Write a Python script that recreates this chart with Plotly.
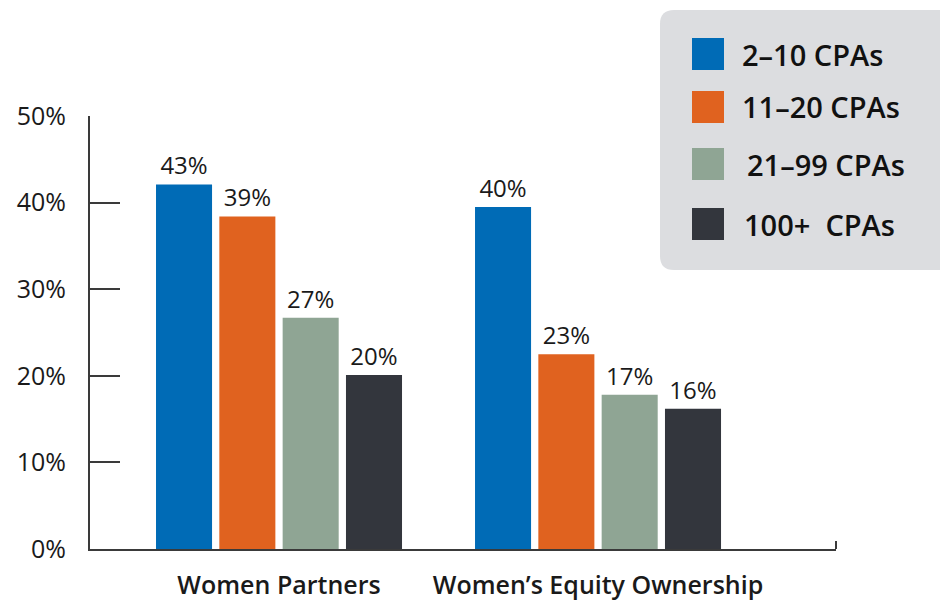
import plotly.graph_objects as go

categories = ["Women Partners", "Women’s Equity Ownership"]
series_names = ["2–10 CPAs", "11–20 CPAs", "21–99 CPAs", "100+\u00a0 CPAs"]
series_values = [
    [42.1, 39.5],
    [38.4, 22.5],
    [26.7, 17.8],
    [20.1, 16.2],
]
series_labels = [
    ["43%", "40%"],
    ["39%", "23%"],
    ["27%", "17%"],
    ["20%", "16%"],
]
colors = ["#006bb6", "#e0621f", "#8fa594", "#33363d"]
y_ticks = [0, 10, 20, 30, 40, 50]
y_tick_labels = ["0%", "10%", "20%", "30%", "40%", "50%"]

FONT = "Open Sans"
AX = "#3a3a3a"
TXT = "#1a1a1a"

# plot area in pixels
L, R, T, B = 90, 836, 116, 549
W, H = R - L, B - T


def px(x):
    return (x - L) / W


def py(y):
    return (B - y) / H


fig = go.Figure()
for name, vals, labs, col in zip(series_names, series_values, series_labels, colors):
    fig.add_trace(go.Bar(
        x=categories, y=vals, name=name, text=labs,
        textposition="outside", cliponaxis=False,
        textfont=dict(family=FONT, size=24, color=TXT),
        marker=dict(color=col, line=dict(width=0)),
        showlegend=False,
    ))

shapes = []
# legend box with rounded left corners (extends past right edge)
x0, x1, y0, y1, r = 660, 980, 10, 270, 14
path = (f"M{px(x0 + r)},{py(y0)} L{px(x1)},{py(y0)} L{px(x1)},{py(y1)} "
        f"L{px(x0 + r)},{py(y1)} Q{px(x0)},{py(y1)} {px(x0)},{py(y1 - r)} "
        f"L{px(x0)},{py(y0 + r)} Q{px(x0)},{py(y0)} {px(x0 + r)},{py(y0)} Z")
shapes.append(dict(type="path", xref="paper", yref="paper", path=path,
                   fillcolor="#dcdde0", line=dict(width=0), layer="below"))

annotations = []
sw_y = [38, 91, 148, 208]
text_x = [740, 740, 745, 742]
for i, (name, col) in enumerate(zip(series_names, colors)):
    ya, yb = sw_y[i], sw_y[i] + 32
    shapes.append(dict(type="rect", xref="paper", yref="paper",
                       x0=px(692), x1=px(724), y0=py(yb), y1=py(ya),
                       fillcolor=col, line=dict(width=0)))
    annotations.append(dict(xref="paper", yref="paper", x=px(text_x[i]), y=py((ya + yb) / 2),
                            text=name, showarrow=False, xanchor="left", yanchor="middle",
                            font=dict(family=FONT, size=29, color="#111111", weight=600)))

# small end tick on the x axis
shapes.append(dict(type="line", xref="paper", yref="paper",
                   x0=1, x1=1, y0=0, y1=py(541), line=dict(color=AX, width=2)))

fig.update_layout(
    width=940, height=601,
    margin=dict(l=L, r=940 - R, t=T, b=601 - B, autoexpand=False),
    paper_bgcolor="white", plot_bgcolor="white",
    barmode="group", bargap=0.206, bargroupgap=0.115,
    shapes=shapes, annotations=annotations,
    font=dict(family=FONT, color=TXT),
)
fig.update_xaxes(
    range=[-0.5925, 1.746], showline=True, linecolor=AX, linewidth=2,
    ticks="", showgrid=False, zeroline=False, automargin=False,
    tickfont=dict(family=FONT, size=25, color=TXT, weight=600),
    ticklabelstandoff=13,
)
fig.update_yaxes(
    range=[0, 50], tickvals=y_ticks, ticktext=y_tick_labels,
    showline=True, linecolor=AX, linewidth=2,
    ticks="inside", ticklen=30, tickwidth=2, tickcolor=AX,
    showgrid=False, zeroline=False, automargin=False,
    tickfont=dict(family=FONT, size=25, color=TXT, weight=500),
    ticklabelstandoff=17,
)

fig.write_html("out.html")
